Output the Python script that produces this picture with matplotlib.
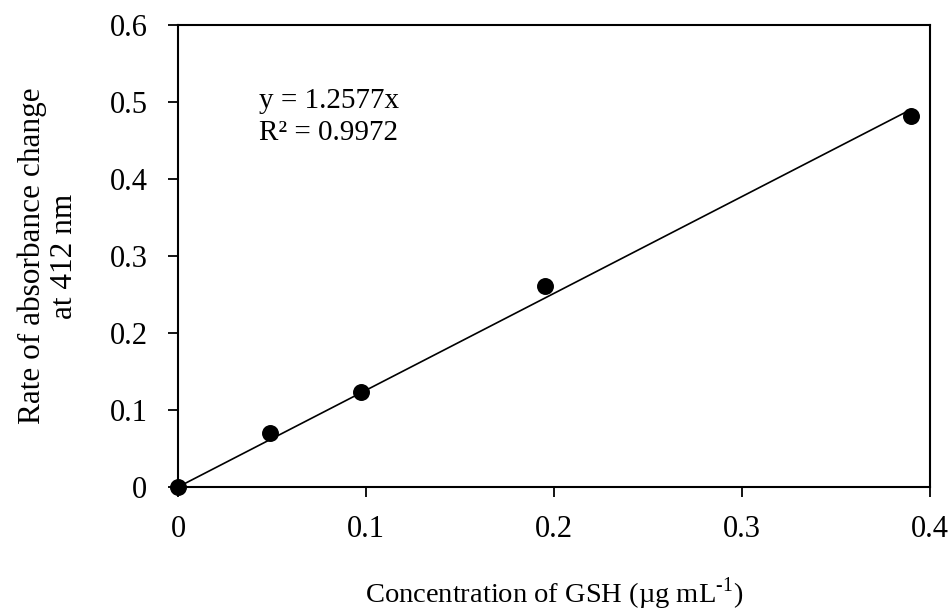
import numpy as np
import matplotlib
matplotlib.use("Agg")
import matplotlib.pyplot as plt

# data
conc = [0.0, 0.04875, 0.0975, 0.195, 0.39]
rate = [0.0, 0.070, 0.123, 0.261, 0.482]
slope = 1.2577
r2 = 0.9972

plt.rcParams['font.family'] = ['Liberation Serif', 'DejaVu Serif']
plt.rcParams['mathtext.fontset'] = 'custom'
plt.rcParams['mathtext.rm'] = 'Liberation Serif'

fig = plt.figure(figsize=(9.53, 6.12), dpi=100)
ax = fig.add_axes([0.1868, 0.2042, 0.7891, 0.7549])

xfit = np.array([0, max(conc)])
ax.plot(xfit, slope * xfit, color='black', lw=1.2, zorder=2)
ax.scatter(conc, rate, s=125, color='black', zorder=3, clip_on=False)

ax.set_xlim(0, 0.4)
ax.set_ylim(0, 0.6)
ax.set_xticks([0, 0.1, 0.2, 0.3, 0.4])
ax.set_xticklabels(['0', '0.1', '0.2', '0.3', '0.4'])
ax.set_yticks([0, 0.1, 0.2, 0.3, 0.4, 0.5, 0.6])
ax.set_yticklabels(['0', '0.1', '0.2', '0.3', '0.4', '0.5', '0.6'])
ax.tick_params(direction='out', length=7, width=1.3, labelsize=22)
ax.tick_params(axis='x', pad=13)
ax.tick_params(axis='y', pad=15)
for s in ax.spines.values():
    s.set_linewidth(1.5)

ax.text(0.043, 0.48, f"y = {slope}x\nR² = {r2}", fontsize=21, va='center', ha='left', linespacing=1.3)

ax.set_xlabel(r"Concentration of GSH (µg mL$^{\text{-1}}$)", fontsize=20.5, labelpad=23)
ax.set_ylabel("Rate of absorbance change\nat 412 nm", fontsize=22.5, labelpad=22, linespacing=1.15)

fig.savefig("out.png", dpi=100)
